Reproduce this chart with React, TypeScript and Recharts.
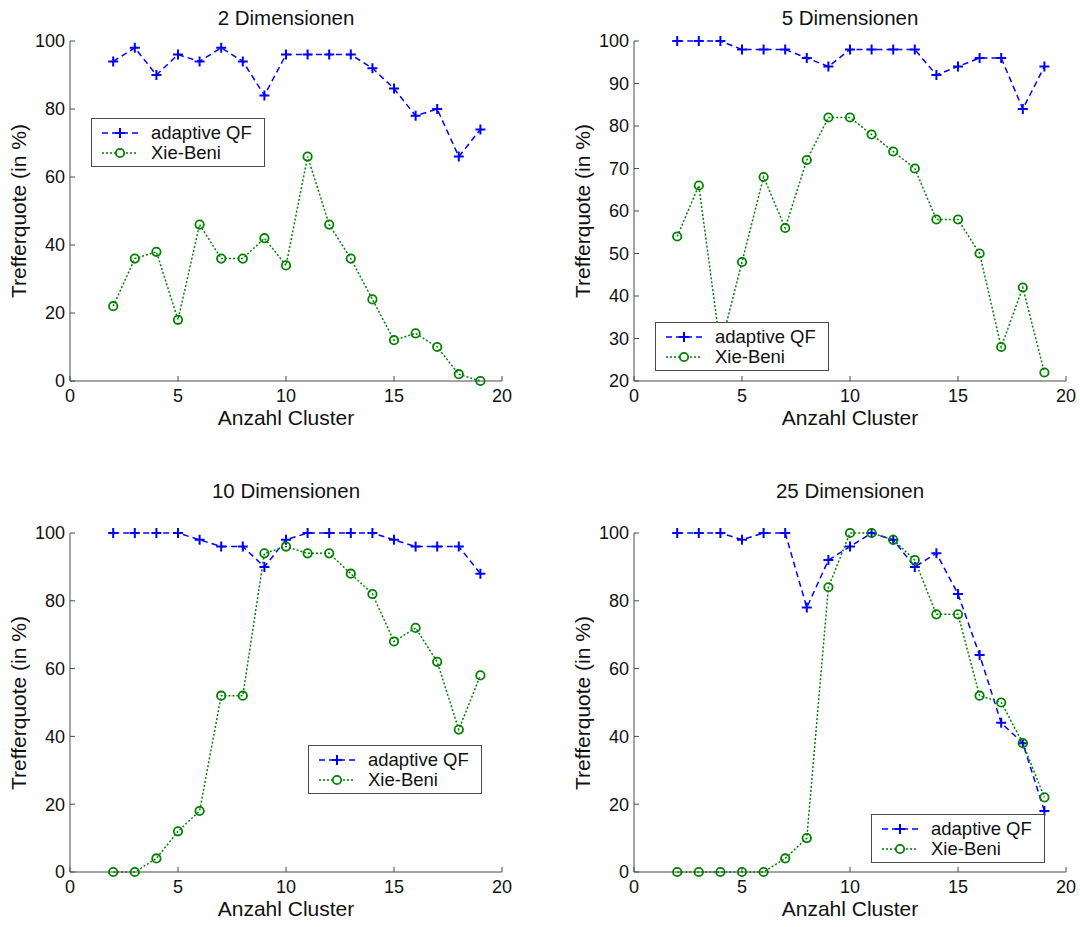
import React from 'react';
import { LineChart, Line, XAxis, YAxis } from 'recharts';

const clusters = [2, 3, 4, 5, 6, 7, 8, 9, 10, 11, 12, 13, 14, 15, 16, 17, 18, 19];

const qf2 = [94, 98, 90, 96, 94, 98, 94, 84, 96, 96, 96, 96, 92, 86, 78, 80, 66, 74];
const xb2 = [22, 36, 38, 18, 46, 36, 36, 42, 34, 66, 46, 36, 24, 12, 14, 10, 2, 0];

const qf5 = [100, 100, 100, 98, 98, 98, 96, 94, 98, 98, 98, 98, 92, 94, 96, 96, 84, 94];
const xb5 = [54, 66, 28, 48, 68, 56, 72, 82, 82, 78, 74, 70, 58, 58, 50, 28, 42, 22];

const qf10 = [100, 100, 100, 100, 98, 96, 96, 90, 98, 100, 100, 100, 100, 98, 96, 96, 96, 88];
const xb10 = [0, 0, 4, 12, 18, 52, 52, 94, 96, 94, 94, 88, 82, 68, 72, 62, 42, 58];

const qf25 = [100, 100, 100, 98, 100, 100, 78, 92, 96, 100, 98, 90, 94, 82, 64, 44, 38, 18];
const xb25 = [0, 0, 0, 0, 0, 4, 10, 84, 100, 100, 98, 92, 76, 76, 52, 50, 38, 22];

const titles = ['2 Dimensionen', '5 Dimensionen', '10 Dimensionen', '25 Dimensionen'];
const xTicks = [0, 5, 10, 15, 20];
const yTicksFull = [0, 20, 40, 60, 80, 100];
const yTicks5 = [20, 30, 40, 50, 60, 70, 80, 90, 100];
const seriesNames = ['adaptive QF', 'Xie-Beni'];
const xLabel = 'Anzahl Cluster';
const yLabel = 'Trefferquote (in %)';

const BLUE = '#0000ff';
const GREEN = '#008000';
const AXIS = '#4a4a4a';
const FONT = '"Liberation Sans", Arial, sans-serif';

const build = (qf: number[], xb: number[]) =>
  clusters.map((c, i) => ({ x: c, qf: qf[i], xb: xb[i] }));

const PlusDot = (props: any) => {
  const { cx, cy, index } = props;
  if (cx == null || cy == null) return null;
  return (
    <path
      key={`plus-${index}`}
      d={`M${cx - 5},${cy}H${cx + 5}M${cx},${cy - 5}V${cy + 5}`}
      stroke={BLUE}
      strokeWidth={2}
      fill="none"
    />
  );
};

const CircleDot = (props: any) => {
  const { cx, cy, index } = props;
  if (cx == null || cy == null) return null;
  return (
    <circle
      key={`circ-${index}`}
      cx={cx}
      cy={cy}
      r={4.2}
      stroke={GREEN}
      strokeWidth={1.8}
      fill="none"
    />
  );
};

type PanelCfg = {
  left: number;
  top: number;
  mLeft: number;
  mRight: number;
  mTop: number;
  mBottom: number;
  data: any[];
  yDomain: [number, number];
  yTicks: number[];
  title: string;
  legend: { x: number; y: number };
};

const panels: PanelCfg[] = [
  { left: 0, top: 0, mLeft: 20, mRight: 38, mTop: 41, mBottom: 29, data: build(qf2, xb2), yDomain: [0, 100], yTicks: yTicksFull, title: titles[0], legend: { x: 91, y: 118 } },
  { left: 540, top: 0, mLeft: 44, mRight: 14, mTop: 41, mBottom: 29, data: build(qf5, xb5), yDomain: [20, 100], yTicks: yTicks5, title: titles[1], legend: { x: 655, y: 322 } },
  { left: 0, top: 480, mLeft: 20, mRight: 38, mTop: 53, mBottom: 18, data: build(qf10, xb10), yDomain: [0, 100], yTicks: yTicksFull, title: titles[2], legend: { x: 308, y: 745 } },
  { left: 540, top: 480, mLeft: 44, mRight: 14, mTop: 53, mBottom: 18, data: build(qf25, xb25), yDomain: [0, 100], yTicks: yTicksFull, title: titles[3], legend: { x: 871, y: 814 } },
];

const CW = 540;
const CH = 440;

const LegendBox = ({ x, y }: { x: number; y: number }) => (
  <div
    style={{
      position: 'absolute',
      left: x,
      top: y,
      width: 174,
      height: 49,
      border: `1px solid ${AXIS}`,
      background: '#fff',
      fontFamily: FONT,
      fontSize: 18.5,
      color: '#111',
      boxSizing: 'border-box',
    }}
  >
    <div style={{ position: 'absolute', left: 10, top: 4, height: 20, display: 'flex', alignItems: 'center' }}>
      <svg width={36} height={12}>
        <line x1={0} y1={6} x2={36} y2={6} stroke={BLUE} strokeWidth={1.5} strokeDasharray="6 4" />
        <path d="M13,6H23M18,1V11" stroke={BLUE} strokeWidth={2} fill="none" />
      </svg>
      <span style={{ marginLeft: 13, lineHeight: '20px' }}>{seriesNames[0]}</span>
    </div>
    <div style={{ position: 'absolute', left: 10, top: 24, height: 20, display: 'flex', alignItems: 'center' }}>
      <svg width={36} height={12}>
        <line x1={0} y1={6} x2={36} y2={6} stroke={GREEN} strokeWidth={1.5} strokeDasharray="2 2" />
        <circle cx={18} cy={6} r={4.2} stroke={GREEN} strokeWidth={1.8} fill="#fff" />
      </svg>
      <span style={{ marginLeft: 13, lineHeight: '20px' }}>{seriesNames[1]}</span>
    </div>
  </div>
);

const Panel = ({ p }: { p: PanelCfg }) => {
  const plotLeft = p.left + p.mLeft + 50;
  const plotRight = p.left + CW - p.mRight;
  const plotTop = p.top + p.mTop;
  const plotBottom = p.top + CH - p.mBottom - 30;
  const cx = (plotLeft + plotRight) / 2;
  const cy = (plotTop + plotBottom) / 2;
  const tickStyle = { fontSize: 18, fill: '#111', fontFamily: FONT };
  const labelStyle: React.CSSProperties = {
    position: 'absolute',
    width: 300,
    height: 24,
    lineHeight: '24px',
    textAlign: 'center',
    fontFamily: FONT,
    fontSize: 21,
    color: '#111',
  };
  return (
    <>
      <div style={{ position: 'absolute', left: p.left, top: p.top, width: CW, height: CH }}>
        <LineChart
          width={CW}
          height={CH}
          data={p.data}
          margin={{ top: p.mTop, right: p.mRight, left: p.mLeft, bottom: p.mBottom }}
          style={{ overflow: 'visible' }}
        >
          <XAxis
            dataKey="x"
            type="number"
            domain={[0, 20]}
            ticks={xTicks}
            interval={0}
            height={30}
            tickSize={-5}
            tickMargin={13}
            stroke={AXIS}
            tick={tickStyle}
          />
          <XAxis
            xAxisId="top"
            orientation="top"
            dataKey="x"
            type="number"
            domain={[0, 20]}
            ticks={xTicks}
            interval={0}
            height={0}
            tickSize={-5}
            tick={false}
            stroke={AXIS}
          />
          <YAxis
            type="number"
            domain={p.yDomain}
            ticks={p.yTicks}
            interval={0}
            width={50}
            tickSize={-5}
            tickMargin={10}
            stroke={AXIS}
            tick={tickStyle}
          />
          <YAxis
            yAxisId="right"
            orientation="right"
            type="number"
            domain={p.yDomain}
            ticks={p.yTicks}
            interval={0}
            width={0}
            tickSize={-5}
            tick={false}
            stroke={AXIS}
          />
          <Line
            dataKey="qf"
            type="linear"
            stroke={BLUE}
            strokeWidth={1.5}
            strokeDasharray="6 4"
            dot={PlusDot}
            activeDot={false}
            isAnimationActive={false}
            name={seriesNames[0]}
          />
          <Line
            dataKey="xb"
            type="linear"
            stroke={GREEN}
            strokeWidth={1.5}
            strokeDasharray="2 2"
            dot={CircleDot}
            activeDot={false}
            isAnimationActive={false}
            name={seriesNames[1]}
          />
        </LineChart>
      </div>
      <div style={{ ...labelStyle, left: cx - 150, top: p.top + (p.top === 0 ? 6 : -1), fontSize: 20.5 }}>
        {p.title}
      </div>
      <div style={{ ...labelStyle, left: cx - 150, top: plotBottom + 25 }}>{xLabel}</div>
      <div style={{ ...labelStyle, left: plotLeft - 51 - 150, top: cy - 12, transform: 'rotate(-90deg)' }}>
        {yLabel}
      </div>
      <LegendBox x={p.legend.x} y={p.legend.y} />
    </>
  );
};

export default function App() {
  return (
    <div style={{ position: 'absolute', left: 0, top: 0, width: 1080, height: 927, background: '#fff', overflow: 'hidden' }}>
      {panels.map((p, i) => (
        <Panel key={i} p={p} />
      ))}
    </div>
  );
}
